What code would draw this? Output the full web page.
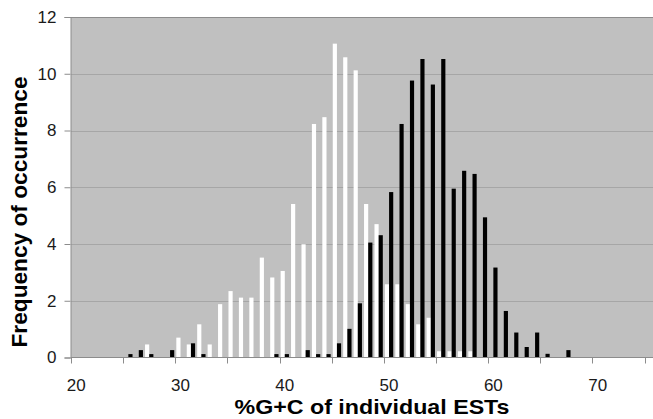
<!DOCTYPE html>
<html>
<head>
<meta charset="utf-8">
<script src="https://cdn.jsdelivr.net/npm/d3@7"></script>
<style>
  body { margin: 0; background: #fff; }
  svg { display: block; font-family: "Liberation Sans", Arial, sans-serif; }
</style>
</head>
<body>
<div id="chart"></div>
<script>
// --------------- Data ---------------
const CATEGORIES = d3.range(20, 76); // %G+C bins, 20..75
const TICK_LABELS = [20, 30, 40, 50, 60, 70];

// white series, indexed by %G+C
const whiteValues = {
  27: 0.46, 30: 0.7, 31: 0.46, 32: 1.17, 33: 0.46, 34: 1.88, 35: 2.34,
  36: 2.11, 37: 2.11, 38: 3.52, 39: 2.82, 40: 3.05, 41: 5.41, 42: 3.99,
  43: 8.23, 44: 8.47, 45: 11.06, 46: 10.58, 47: 10.12, 48: 5.41, 49: 4.7,
  50: 2.58, 51: 2.58, 52: 1.88, 53: 1.17, 54: 1.4, 55: 0.22, 56: 0.22,
  57: 0.22, 58: 0.22,
};

// black series
const blackValues = {
  25: 0.12, 26: 0.26, 27: 0.12, 29: 0.26, 31: 0.5, 32: 0.12, 39: 0.12,
  40: 0.12, 42: 0.26, 43: 0.12, 44: 0.12, 45: 0.5, 46: 1.01, 47: 1.91,
  48: 4.05, 49: 4.31, 50: 5.83, 51: 8.23, 52: 9.76, 53: 10.52, 54: 9.62,
  55: 10.52, 56: 5.95, 57: 6.58, 58: 6.47, 59: 4.94, 60: 3.17, 61: 1.64,
  62: 0.88, 63: 0.37, 64: 0.88, 65: 0.13, 67: 0.26,
};

const SERIES = ["white", "black"];

// --------------- Layout ---------------
const WIDTH = 653;
const HEIGHT = 419;
const margin = { top: 17, left: 71, bottom: 62 };
const plotRight = 655;
const GRID_COLOR = "#a6a6a6";
const AXIS_COLOR = "#8c8c8c";

const svg = d3
  .select("#chart")
  .append("svg")
  .attr("width", WIDTH)
  .attr("height", HEIGHT);

const x = d3
  .scaleBand()
  .domain(CATEGORIES)
  .range([margin.left, plotRight])
  .padding(0);

const xInner = d3
  .scaleBand()
  .domain(SERIES)
  .range([0, x.bandwidth()])
  .paddingInner(0)
  .paddingOuter(0.25);

const y = d3
  .scaleLinear()
  .domain([0, 12])
  .range([HEIGHT - margin.bottom + 0.5, margin.top]);

// plot background
svg
  .append("rect")
  .attr("x", margin.left)
  .attr("y", margin.top)
  .attr("width", plotRight - margin.left)
  .attr("height", y(0) - margin.top)
  .attr("fill", "#c0c0c0");

// gridlines (12 doubles as the top border)
svg
  .append("g")
  .selectAll("line")
  .data(d3.range(2, 13, 2))
  .join("line")
  .attr("x1", margin.left)
  .attr("x2", plotRight)
  .attr("y1", (d) => Math.round(y(d)) + 0.5)
  .attr("y2", (d) => Math.round(y(d)) + 0.5)
  .attr("stroke", (d) => (d === 12 ? AXIS_COLOR : GRID_COLOR))
  .attr("stroke-width", 1);

// bars
const rows = CATEGORIES.map((c) => ({
  c,
  white: whiteValues[c] || 0,
  black: blackValues[c] || 0,
}));

const barGroups = svg
  .append("g")
  .selectAll("g")
  .data(rows)
  .join("g")
  .attr("transform", (d) => `translate(${x(d.c)},0)`);

barGroups
  .selectAll("rect")
  .data((d) => SERIES.map((s) => ({ s, v: d[s] })).filter((b) => b.v > 0))
  .join("rect")
  .attr("x", (d) => xInner(d.s))
  .attr("width", xInner.bandwidth())
  .attr("y", (d) => y(d.v))
  .attr("height", (d) => y(0) - y(d.v))
  .attr("fill", (d) => (d.s === "white" ? "#ffffff" : "#000000"));

// y axis
const yAxis = svg
  .append("g")
  .attr("transform", `translate(${margin.left - 0.5},0)`)
  .call(
    d3
      .axisLeft(y)
      .tickValues(d3.range(0, 13, 2))
      .tickSize(6)
      .tickPadding(8)
  );
yAxis.select(".domain").attr("stroke", AXIS_COLOR);
yAxis.selectAll(".tick line").attr("stroke", AXIS_COLOR);
yAxis
  .selectAll(".tick text")
  .attr("font-size", 17)
  .attr("fill", "#1a1a1a")
  .attr("font-family", "Liberation Sans, Arial, sans-serif");

// x axis: ticks every 5 bins at bin edges, labels every 10 at bin centers
const xAxis = svg.append("g").attr("transform", `translate(0,${y(0)})`);
xAxis
  .append("line")
  .attr("x1", margin.left)
  .attr("x2", plotRight)
  .attr("stroke", AXIS_COLOR);
xAxis
  .selectAll("line.tick")
  .data(CATEGORIES.filter((c) => c % 5 === 0))
  .join("line")
  .attr("class", "tick")
  .attr("x1", (d) => Math.round(x(d)) + 0.5)
  .attr("x2", (d) => Math.round(x(d)) + 0.5)
  .attr("y1", 0)
  .attr("y2", 6)
  .attr("stroke", AXIS_COLOR);
xAxis
  .selectAll("text")
  .data(TICK_LABELS)
  .join("text")
  .attr("x", (d) => x(d) + x.bandwidth() / 2)
  .attr("y", 33)
  .attr("text-anchor", "middle")
  .attr("font-size", 17)
  .attr("fill", "#1a1a1a")
  .text((d) => d);

// axis titles
svg
  .append("text")
  .attr("x", 372)
  .attr("y", 414)
  .attr("text-anchor", "middle")
  .attr("font-size", 21)
  .attr("font-weight", "bold")
  .attr("fill", "#000")
  .attr("textLength", 275)
  .attr("lengthAdjust", "spacingAndGlyphs")
  .text("%G+C of individual ESTs");

svg
  .append("text")
  .attr("transform", "translate(27,212) rotate(-90)")
  .attr("text-anchor", "middle")
  .attr("font-size", 21.5)
  .attr("font-weight", "bold")
  .attr("fill", "#000")
  .attr("textLength", 271)
  .attr("lengthAdjust", "spacingAndGlyphs")
  .text("Frequency of occurrence");
</script>
</body>
</html>
